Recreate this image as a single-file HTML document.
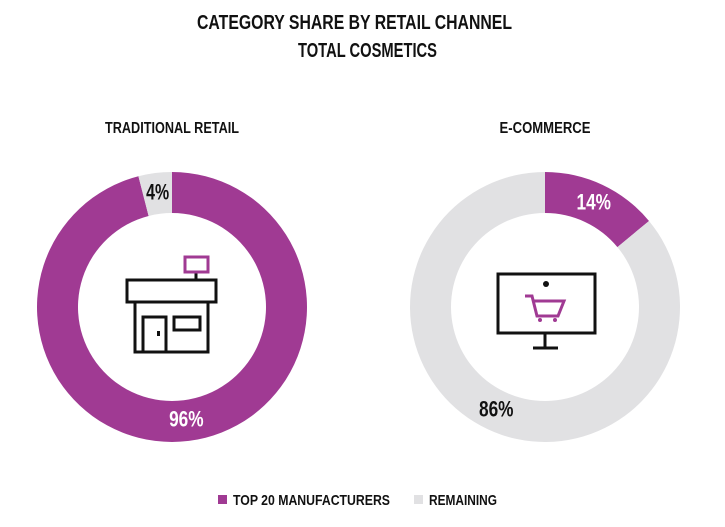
<!DOCTYPE html>
<html><head><meta charset="utf-8"><style>
body{margin:0;background:#fff;width:725px;height:522px;overflow:hidden}
text{font-family:"Liberation Sans Narrow","Liberation Sans",sans-serif;font-weight:bold}
</style></head><body>
<svg id="chart" width="725" height="522">
<text x="197" y="29" textLength="315" lengthAdjust="spacingAndGlyphs" font-size="20" fill="#111">CATEGORY SHARE BY RETAIL CHANNEL</text>
<text x="298" y="57" textLength="139" lengthAdjust="spacingAndGlyphs" font-size="20" fill="#111">TOTAL COSMETICS</text>
<g id="donuts"></g>
<g fill="none" stroke="#111" stroke-width="3">
<rect x="127" y="280" width="89" height="22" fill="#fff"/>
<path d="M135 302V352H208V302"/>
<rect x="143" y="317" width="23" height="35"/>
<rect x="174" y="317" width="26" height="13"/>
<line x1="196" y1="271" x2="196" y2="280"/>
<rect x="185" y="257" width="23" height="15" stroke="#a03a93"/>
<rect x="157" y="331" width="3" height="5" fill="#111" stroke="none"/>
</g>
<g fill="none" stroke="#111" stroke-width="3">
<rect x="498" y="274" width="97" height="59"/>
<line x1="545" y1="333" x2="545" y2="348"/>
<line x1="533" y1="348" x2="558" y2="348"/>
<circle cx="546" cy="284" r="3" fill="#111" stroke="none"/>
<path d="M525 296H532L537 316H558L564 301H533" stroke="#a03a93"/>
<circle cx="540" cy="320" r="2" fill="#a03a93" stroke="none"/>
<circle cx="555" cy="320" r="2" fill="#a03a93" stroke="none"/>
</g>
<g>
<rect x="218" y="495" width="9" height="9" fill="#a03a93"/>
<text x="233" y="505" textLength="157" lengthAdjust="spacingAndGlyphs" font-size="15" fill="#111">TOP 20 MANUFACTURERS</text>
<rect x="414" y="495" width="9" height="9" fill="#e1e1e3"/>
<text x="429" y="505" textLength="68" lengthAdjust="spacingAndGlyphs" font-size="15" fill="#111">REMAINING</text>
</g>
</svg>
<script>
const channels=["TRADITIONAL RETAIL","E-COMMERCE"];
const top20=[96,14];
const remaining=[4,86];
const centersX=[172,545];
const titleWidths=[134,91];
const cy=307,R=135,r=94;
const NS="http://www.w3.org/2000/svg";
const g=document.getElementById('donuts');
function pt(a,rad,cx){return [cx+rad*Math.sin(a),cy-rad*Math.cos(a)];}
function arc(cx,a0,a1){
 const large=(a1-a0)>Math.PI?1:0;
 const [x0,y0]=pt(a0,R,cx),[x1,y1]=pt(a1,R,cx),[x2,y2]=pt(a1,r,cx),[x3,y3]=pt(a0,r,cx);
 return `M${x0} ${y0}A${R} ${R} 0 ${large} 1 ${x1} ${y1}L${x2} ${y2}A${r} ${r} 0 ${large} 0 ${x3} ${y3}Z`;
}
channels.forEach((c,i)=>{
 const cx=centersX[i];
 const tot=top20[i]+remaining[i];
 const aT=top20[i]/tot*2*Math.PI;
 const p1=document.createElementNS(NS,'path');
 p1.setAttribute('d',arc(cx,0,aT));p1.setAttribute('fill','#a03a93');
 
 
 g.appendChild(p1);
 const p2=document.createElementNS(NS,'path');
 p2.setAttribute('d',arc(cx,aT,2*Math.PI-0.0001));p2.setAttribute('fill','#e1e1e3');
 
 
 g.appendChild(p2);
 const t=document.createElementNS(NS,'text');
 t.setAttribute('x',cx-titleWidths[i]/2);t.setAttribute('y',133);
 t.setAttribute('textLength',titleWidths[i]);t.setAttribute('lengthAdjust','spacingAndGlyphs');
 t.setAttribute('font-size','16');t.setAttribute('fill','#111');t.textContent=c;
 
 
 g.appendChild(t);
 [[0,aT,top20[i],'#fff'],[aT,2*Math.PI,remaining[i],'#111']].forEach(([a0,a1,v,col],j)=>{
  const m=(a0+a1)/2;const [x,y]=pt(m,(R+r)/2,cx);
  const s=v+'%';const w=s.length*11.5;
  const l=document.createElementNS(NS,'text');
  l.setAttribute('x',x-w/2);l.setAttribute('y',y+6);
  l.setAttribute('textLength',w);l.setAttribute('lengthAdjust','spacingAndGlyphs');
  l.setAttribute('font-size','22');l.setAttribute('fill',col);l.textContent=s;
  
  
  g.appendChild(l);
 });
});
</script>
</body></html>
